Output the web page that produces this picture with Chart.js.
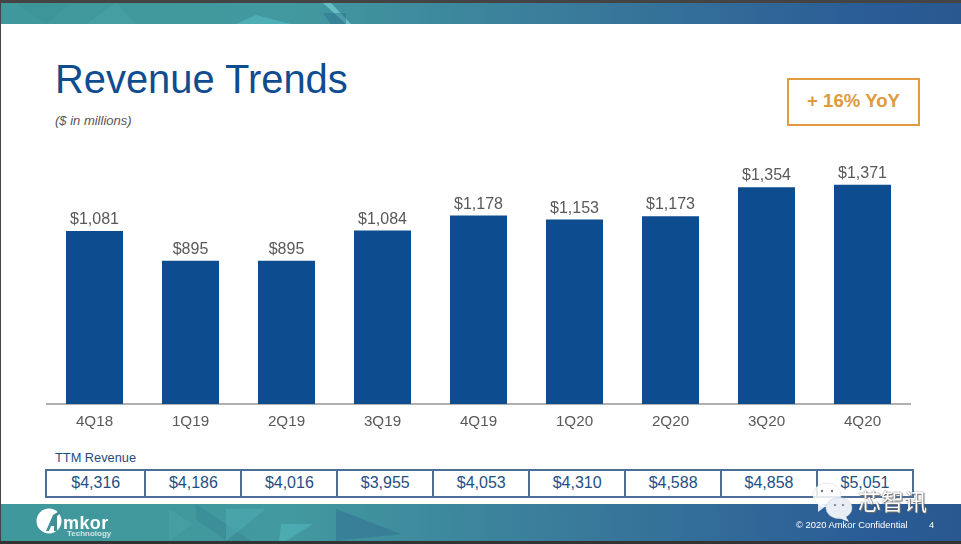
<!DOCTYPE html>
<html><head><meta charset="utf-8">
<script src="https://cdn.jsdelivr.net/npm/chart.js@4"></script>
<style>
html,body{margin:0;padding:0;background:#fff;overflow:hidden}
#page{position:relative;width:961px;height:544px;background:#fff;font-family:"Liberation Sans",Arial,sans-serif;overflow:hidden}
.abs{position:absolute;white-space:nowrap}
canvas{position:absolute;left:0;top:0}
.banner{position:absolute;left:1px;width:960px;background:linear-gradient(90deg,#3f989c 0%,#42999f 30%,#38789a 62%,#2a5c96 90%,#29588f 100%)}
#ttm{position:absolute;left:45px;top:469px;width:869px;height:29px;box-sizing:border-box;border:2px solid #4d6f97;display:flex;background:#fff}
#ttm div{box-sizing:border-box;text-align:center;font-size:16px;line-height:24px;color:#1f4f85;border-left:2px solid #4d6f97}
#ttm div:first-child{border-left:none}
</style></head><body>
<div id="page">
<div class="abs" style="left:0;top:0;width:961px;height:3px;background:#444"></div>
<div class="abs" style="left:0;top:0;width:1px;height:544px;background:#444;z-index:5"></div>
<div class="abs" style="left:0;top:541px;width:961px;height:3px;background:#333;z-index:5"></div>
<div class="banner" style="top:3px;height:21px">
<svg width="960" height="21" style="position:absolute;left:0;top:0">
<polygon points="15,0 45,21 70,0" fill="#3a8f94" opacity=".4"/>
<polygon points="85,21 115,0 135,21" fill="#4fa8aa" opacity=".35"/>
<polygon points="235,21 255,12 290,21" fill="#55bcc4" opacity=".6"/>
<polygon points="322,0 345,21 350,21 330,0" fill="#7bd0d6" opacity=".7"/>
<polygon points="322,10 345,10 345,21 330,21" fill="#2a6f8f" opacity=".45"/>
</svg></div>
<div class="banner" style="top:504px;height:37px">
<svg width="960" height="37" style="position:absolute;left:0;top:0">
<polygon points="168,5 192,20 168,37" fill="#4fa5a8" opacity=".35"/>
<polygon points="195,0 250,37 225,37 195,15" fill="#357f8c" opacity=".35"/>
<polygon points="225,5 265,5 225,37" fill="#4fb0b5" opacity=".5"/>
<polygon points="280,20 312,20 285,37 278,37" fill="#55bcc4" opacity=".5"/>
<polygon points="335,5 400,30 335,37" fill="#2f6d90" opacity=".5"/>
</svg></div>
<svg class="abs" style="left:36px;top:508px;z-index:3" width="30" height="28" viewBox="0 0 30 28">
<circle cx="13" cy="13" r="12.5" fill="#fff"/>
<polygon points="10,23 17,7 25,2 25,5 21,8 21,23 18,23 18,18 15,18 13,23" fill="#3f8f96"/>
</svg>
<div class="abs" style="left:63px;top:513px;font:bold 18px 'Liberation Sans';color:#fff;letter-spacing:.4px;z-index:3">mkor</div>
<div class="abs" style="left:67px;top:529px;font:bold 8px 'Liberation Sans';color:#d5e4e6;z-index:3">Technology</div>
<div class="abs" style="left:796px;top:519px;font-size:9.4px;color:#fff;z-index:3">© 2020 Amkor Confidential</div>
<div class="abs" style="left:929px;top:519px;font-size:9.4px;color:#fff;z-index:3">4</div>

<div class="abs" style="left:55px;top:56px;font-size:39.9px;line-height:46px;color:#0f4c90">Revenue Trends</div>
<div class="abs" style="left:55px;top:113px;font-size:13px;font-style:italic;color:#555">($ in millions)</div>
<div class="abs" style="left:787px;top:78px;width:133px;height:48px;box-sizing:border-box;border:2px solid #e19c42;text-align:center;font-weight:bold;font-size:18.6px;line-height:42px;color:#df9a3c">+ 16% YoY</div>
<div class="abs" style="left:55px;top:450px;font-size:12.8px;color:#1f4d80">TTM Revenue</div>

<canvas id="c" width="961" height="544"></canvas>
<div id="ttm"></div>

<svg class="abs" style="left:812px;top:481px;z-index:6" width="42" height="42" viewBox="0 0 42 42">
<ellipse cx="15" cy="14" rx="14" ry="12" fill="#fff" fill-opacity=".85" stroke="#ddd" stroke-width=".6"/>
<polygon points="6,22 6,31 14,25" fill="#fff" fill-opacity=".85"/>
<ellipse cx="27" cy="27" rx="13" ry="10.5" fill="#e9eef5" stroke="#ccd" stroke-width=".5"/>
<polygon points="33,34 37,41 27,37" fill="#e9eef5"/>
<circle cx="10" cy="10" r="1.2" fill="#777"/><circle cx="20" cy="10" r="1.2" fill="#777"/>
<circle cx="23" cy="24" r="1.1" fill="#777"/><circle cx="31" cy="24" r="1.1" fill="#777"/>
</svg>
<div class="abs" style="left:858px;top:483px;z-index:6;font:400 23px 'Noto Sans CJK SC';line-height:34px;color:#fff;text-shadow:0 0 1.5px #555,1px 1px 1px #777">芯智讯</div>
</div>
<script>
const categories = ["4Q18","1Q19","2Q19","3Q19","4Q19","1Q20","2Q20","3Q20","4Q20"];
const revenue = [1081,895,895,1084,1178,1153,1173,1354,1371];
const ttmRevenue = [4316,4186,4016,3955,4053,4310,4588,4858,5051];
const ttmWidths = [97.5,96,96,96,96,96,96,96,96];
const money = v => "$" + v.toLocaleString("en-US");

const ttm = document.getElementById("ttm");
ttmRevenue.forEach((v,i)=>{
  const d = document.createElement("div");
  d.textContent = money(v);
  d.style.width = ttmWidths[i] + "px";
  ttm.appendChild(d);
});

const barLabels = {
  id:"barLabels",
  afterDatasetsDraw(chart){
    const {ctx} = chart;
    const meta = chart.getDatasetMeta(0);
    ctx.save();
    ctx.font = "16px 'Liberation Sans'";
    ctx.fillStyle = "#595959";
    ctx.textAlign = "center";
    ctx.textBaseline = "alphabetic";
    meta.data.forEach((bar,i)=>{
      ctx.fillText(money(revenue[i]), bar.x, bar.y - 7);
    });
    ctx.restore();
  }
};

new Chart(document.getElementById("c"),{
  type:"bar",
  data:{labels:categories,datasets:[{data:revenue,backgroundColor:"#0d4c8f",borderWidth:0,barPercentage:0.594,categoryPercentage:1}]},
  plugins:[barLabels],
  options:{
    responsive:false,animation:false,
    layout:{padding:{left:46.5,right:50.5,top:180,bottom:0}},
    plugins:{legend:{display:false},tooltip:{enabled:false},title:{display:false}},
    scales:{
      x:{
        grid:{display:false,drawTicks:false},
        border:{color:"#b0b0b0",width:2},
        ticks:{color:"#595959",font:{family:"'Liberation Sans'",size:15.2},padding:9,maxRotation:0},
        afterFit(s){s.height=140;}
      },
      y:{display:false,min:0,max:1400}
    }
  }
});
</script>
</body></html>
